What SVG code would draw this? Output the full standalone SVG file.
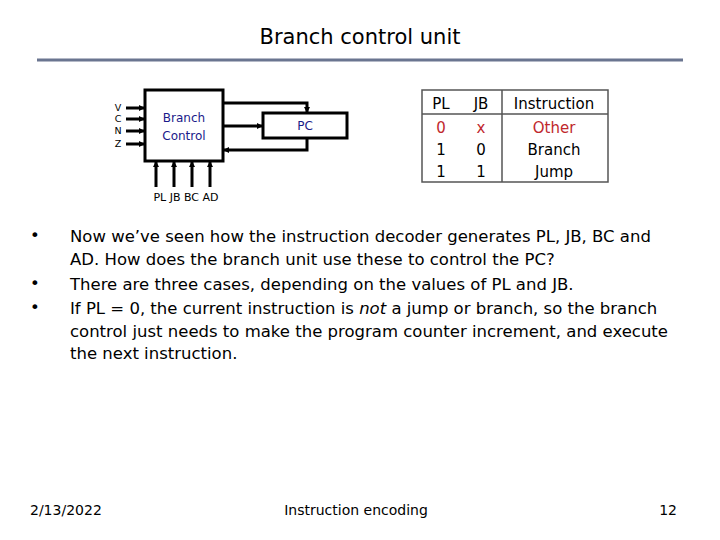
<svg xmlns="http://www.w3.org/2000/svg" width="720" height="540" viewBox="0 0 720 540">
<style>
.t{font-family:"DejaVu Sans","Liberation Sans",sans-serif;fill:#000}
.w{stroke:#000;stroke-width:3;fill:none}
.bx{stroke:#000;stroke-width:3;fill:#fff}
.d{font-family:"DejaVu Sans",sans-serif;font-size:12px;fill:#1a1a8a}
.s{font-family:"DejaVu Sans",sans-serif;font-size:11px;fill:#000}
.v{font-family:"DejaVu Sans",sans-serif;font-size:9.5px;fill:#000}
.tb{font-family:"DejaVu Sans",sans-serif;font-size:15px;text-anchor:middle}
.b{font-family:"DejaVu Sans",sans-serif;font-size:16.5px;fill:#000}
</style>
<defs><marker id="a" markerWidth="6" markerHeight="6" refX="5" refY="3" orient="auto" markerUnits="userSpaceOnUse"><path d="M0,0L6,3L0,6z" fill="#000"/></marker></defs>
<rect width="720" height="540" fill="#fff"/>
<text class="t" x="360" y="44" font-size="21" text-anchor="middle">Branch control unit</text>
<line x1="37" y1="60" x2="683" y2="60" stroke="#6a7590" stroke-width="3"/>
<g id="connectors">
<path class="w" d="M126,108H144" marker-end="url(#a)"/>
<path class="w" d="M126,119H144" marker-end="url(#a)"/>
<path class="w" d="M126,131H144" marker-end="url(#a)"/>
<path class="w" d="M126,144H144" marker-end="url(#a)"/>
<path class="w" d="M156,187V162" marker-end="url(#a)"/>
<path class="w" d="M174,187V162" marker-end="url(#a)"/>
<path class="w" d="M192,187V162" marker-end="url(#a)"/>
<path class="w" d="M210,187V162" marker-end="url(#a)"/>
<path class="w" d="M224,103H307V112" marker-end="url(#a)"/>
<path class="w" d="M224,126H262" stroke-width="2" marker-end="url(#a)"/>
<path class="w" d="M307,139V150H224" marker-end="url(#a)"/>
</g>
<g id="branchcontrol">
<rect class="bx" x="145" y="90" width="78" height="71"/>
<text class="d" x="184" y="122" text-anchor="middle">Branch</text>
<text class="d" x="184" y="140" text-anchor="middle">Control</text>
</g>
<g id="pc">
<rect class="bx" x="263" y="113" width="84" height="25"/>
<text class="d" x="305" y="130" text-anchor="middle">PC</text>
</g>
<g id="inputs">
<text class="v" x="118" y="111" text-anchor="middle">V</text>
<text class="v" x="118" y="122" text-anchor="middle">C</text>
<text class="v" x="118" y="134" text-anchor="middle">N</text>
<text class="v" x="118" y="147" text-anchor="middle">Z</text>
<text class="s" x="186" y="201" text-anchor="middle">PL JB BC AD</text>
</g>
<g id="table">
<rect x="422" y="90" width="186" height="92" fill="#fff" stroke="#555" stroke-width="1.5"/>
<line x1="422" y1="114" x2="608" y2="114" stroke="#555" stroke-width="1.5"/>
<line x1="502" y1="90" x2="502" y2="182" stroke="#555" stroke-width="1.5"/>
<text class="tb" x="441" y="109">PL</text><text class="tb" x="481" y="109">JB</text><text class="tb" x="554" y="109">Instruction</text>
<text class="tb" x="441" y="133" fill="#c0282d">0</text><text class="tb" x="481" y="133" fill="#c0282d">x</text><text class="tb" x="554" y="133" fill="#c0282d">Other</text>
<text class="tb" x="441" y="155">1</text><text class="tb" x="481" y="155">0</text><text class="tb" x="554" y="155">Branch</text>
<text class="tb" x="441" y="177">1</text><text class="tb" x="481" y="177">1</text><text class="tb" x="554" y="177">Jump</text>
</g>
<g id="body">
<text class="b" x="30" y="241">•</text>
<text class="b" x="30" y="289">•</text>
<text class="b" x="30" y="313">•</text>
<text class="b" x="70" y="242">Now we’ve seen how the instruction decoder generates PL, JB, BC and</text>
<text class="b" x="70" y="265">AD. How does the branch unit use these to control the PC?</text>
<text class="b" x="70" y="290">There are three cases, depending on the values of PL and JB.</text>
<text class="b" x="70" y="314">If PL = 0, the current instruction is <tspan font-style="italic">not</tspan> a jump or branch, so the branch</text>
<text class="b" x="70" y="337">control just needs to make the program counter increment, and execute</text>
<text class="b" x="70" y="359">the next instruction.</text>
</g>
<text class="t" x="30" y="515" font-size="14">2/13/2022</text>
<text class="t" x="356" y="515" font-size="14" text-anchor="middle">Instruction encoding</text>
<text class="t" x="677" y="515" font-size="14" text-anchor="end">12</text>
</svg>
